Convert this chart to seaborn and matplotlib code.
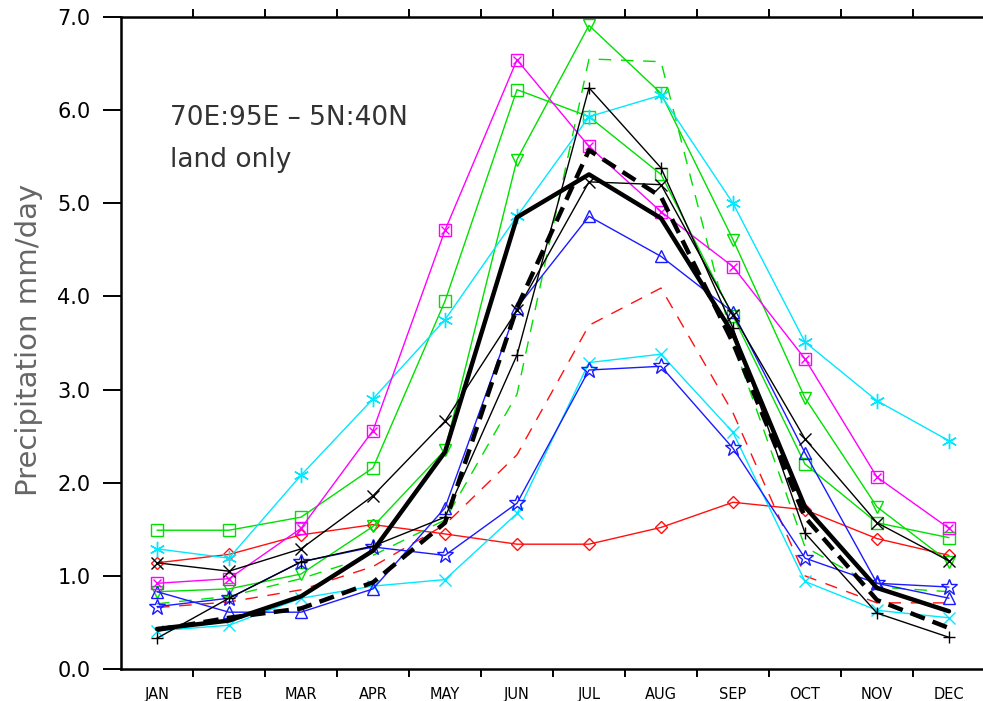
import numpy as np
import pandas as pd
import matplotlib
matplotlib.use("Agg")
import matplotlib.pyplot as plt
import seaborn as sns

months = ["JAN", "FEB", "MAR", "APR", "MAY", "JUN", "JUL", "AUG", "SEP", "OCT", "NOV", "DEC"]
yticks = [0.0, 1.0, 2.0, 3.0, 4.0, 5.0, 6.0, 7.0]

black_thick_solid = [0.43, 0.52, 0.78, 1.27, 2.33, 4.85, 5.31, 4.84, 3.60, 1.74, 0.87, 0.62]
black_thick_dash = [0.42, 0.55, 0.65, 0.93, 1.57, 3.88, 5.57, 5.07, 3.50, 1.63, 0.74, 0.44]
black_plus = [0.33, 0.76, 1.15, 1.32, 1.63, 3.37, 6.24, 5.38, 3.66, 1.46, 0.60, 0.34]
black_x = [1.14, 1.05, 1.29, 1.86, 2.66, 3.85, 5.23, 5.20, 3.80, 2.47, 1.57, 1.16]
magenta_boxx = [0.92, 0.97, 1.51, 2.56, 4.71, 6.54, 5.61, 4.91, 4.32, 3.33, 2.06, 1.51]
green_square = [1.49, 1.49, 1.63, 2.16, 3.95, 6.22, 5.93, 5.31, 3.79, 2.20, 1.57, 1.41]
green_tri = [0.83, 0.86, 1.02, 1.53, 2.35, 5.47, 6.91, 6.18, 4.61, 2.91, 1.74, 1.15]
green_dash = [0.70, 0.78, 0.97, 1.22, 1.60, 2.95, 6.55, 6.52, 3.50, 1.31, 0.88, 0.83]
cyan_star = [1.29, 1.19, 2.08, 2.90, 3.75, 4.86, 5.93, 6.16, 5.00, 3.51, 2.88, 2.45]
cyan_x = [0.41, 0.47, 0.76, 0.89, 0.96, 1.67, 3.29, 3.38, 2.54, 0.94, 0.63, 0.55]
blue_tri = [0.83, 0.61, 0.61, 0.86, 1.73, 3.88, 4.86, 4.43, 3.83, 2.32, 0.92, 0.76]
blue_star = [0.67, 0.76, 1.15, 1.31, 1.22, 1.78, 3.21, 3.25, 2.37, 1.19, 0.92, 0.88]
red_diamond = [1.14, 1.23, 1.44, 1.55, 1.45, 1.34, 1.34, 1.52, 1.79, 1.71, 1.40, 1.22]
red_dash = [0.66, 0.72, 0.85, 1.10, 1.55, 2.30, 3.69, 4.09, 2.75, 1.00, 0.71, 0.71]

sns.set_style("white")
plt.rcParams["font.family"] = ["DejaVu Sans"]
plt.rcParams["lines.scale_dashes"] = False

GREEN = "#00e000"
CYAN = "#00e8ff"
MAGENTA = "#ff00ff"
BLUE = "#1a1aff"
RED = "#ff1010"

fig = plt.figure(figsize=(9.83, 7.01), dpi=100)
ax = fig.add_axes([121 / 983, 32 / 701, 864 / 983, 652 / 701])

x = np.arange(12)

def draw(vals, color, lw=1.0, ls="-", marker=None, ms=8, mew=1.0, z=2):
    kw = dict(color=color, linewidth=lw, linestyle=ls, zorder=z)
    if marker is not None:
        kw.update(marker=marker, markersize=ms, markeredgewidth=mew,
                  markeredgecolor=color, markerfacecolor="none")
    sns.lineplot(x=x, y=vals, ax=ax, **kw)

def overlay(vals, color, marker, ms, mew=1.0, z=3):
    sns.lineplot(x=x, y=vals, ax=ax, color=color, linewidth=0, marker=marker,
                 markersize=ms, markeredgewidth=mew, markeredgecolor=color,
                 markerfacecolor="none", zorder=z)

draw(red_diamond, RED, marker="D", ms=6)
draw(red_dash, RED, ls=(0, (9, 7)))
draw(green_dash, GREEN, ls=(0, (9, 7)))
draw(green_square, GREEN, marker="s", ms=8)
draw(green_tri, GREEN, marker="v", ms=8)
draw(cyan_star, CYAN, marker=(6, 2, 0), ms=11)
draw(cyan_x, CYAN, marker="x", ms=8)
draw(blue_tri, BLUE, marker="^", ms=8)
draw(blue_star, BLUE, marker="*", ms=12)
draw(magenta_boxx, MAGENTA, marker="s", ms=8)
overlay(magenta_boxx, MAGENTA, "x", 6)
draw(black_x, "black", marker="x", ms=8)
draw(black_plus, "black", marker="+", ms=8)
draw(black_thick_dash, "black", lw=3.2, ls=(0, (11, 6)), z=4)
draw(black_thick_solid, "black", lw=3.2, z=4)

ax.set_xlim(-0.5, 11.5)
ax.set_ylim(0, 7)
ax.set_xticks(x)
ax.set_xticklabels(months, fontsize=10.5, color="black")
ax.set_xticks(np.arange(0.5, 11, 1), minor=True)
ax.set_yticks(yticks)
ax.set_yticklabels([f"{v:.1f}" for v in yticks], fontsize=15, color="black")
ax.tick_params(axis="x", which="major", length=0, pad=13)
ax.tick_params(axis="x", which="minor", bottom=True, top=True, length=6,
               width=1.4, direction="out", color="black")
ax.tick_params(axis="y", which="major", left=True, length=13, width=1.4,
               direction="out", pad=9, color="black")
for s in ["left", "bottom", "top"]:
    ax.spines[s].set_visible(True)
    ax.spines[s].set_linewidth(1.8)
    ax.spines[s].set_color("black")
ax.spines["right"].set_visible(False)
ax.grid(False)

ax.set_xlabel("")
ax.set_ylabel("Precipitation mm/day", fontsize=21, color="#666666")
ax.yaxis.set_label_coords(-0.09, 0.505)

fig.text(170 / 983, 1 - 118 / 701, "70E:95E \u2013 5N:40N", fontsize=19,
         va="center", ha="left", color="#333333")
fig.text(170 / 983, 1 - 160 / 701, "land only", fontsize=19,
         va="center", ha="left", color="#333333")

fig.savefig("out.png", dpi=100)
